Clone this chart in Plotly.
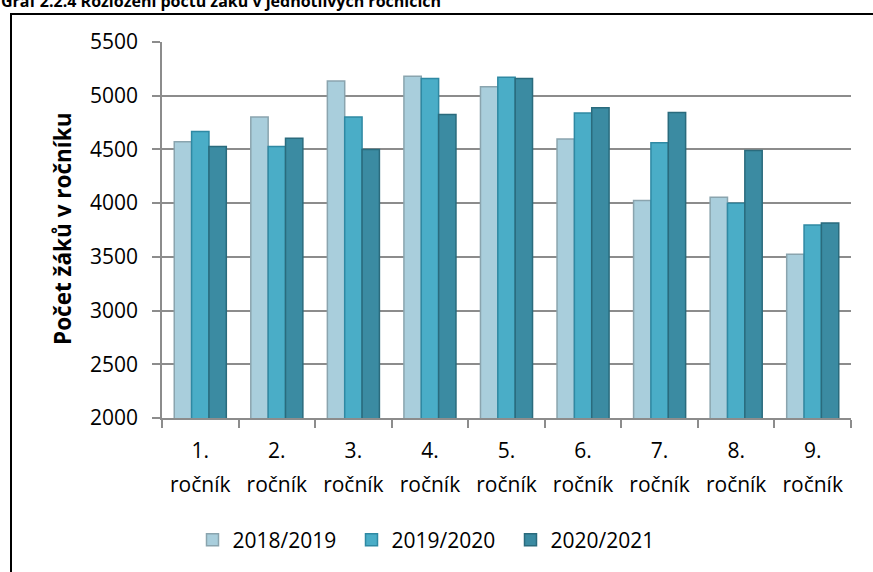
import plotly.graph_objects as go

# data
rocniky = ["1.", "2.", "3.", "4.", "5.", "6.", "7.", "8.", "9."]
skolni_roky = ["2018/2019", "2019/2020", "2020/2021"]
zaci_2018 = [4572, 4803, 5136, 5182, 5083, 4597, 4025, 4054, 3525]
zaci_2019 = [4668, 4528, 4803, 5160, 5173, 4838, 4563, 4000, 3796]
zaci_2020 = [4528, 4603, 4500, 4824, 5160, 4888, 4844, 4491, 3815]
y_ticks = [2000, 2500, 3000, 3500, 4000, 4500, 5000, 5500]

fills = ["#a9cedc", "#4aadc7", "#3b8ba2"]
edges = ["#8aa4ae", "#2f89a3", "#2a6b7d"]
FONT = "Open Sans"
GRID = "#8c8c8c"

W, H = 873, 572
L, R, T, B = 162, 22, 42, 154
pw, ph = W - L - R, H - T - B


def px_x(x):
    return (x - L) / pw


def px_y(y):
    return (H - B - y) / ph


fig = go.Figure()
for name, vals, fc, ec in zip(skolni_roky, [zaci_2018, zaci_2019, zaci_2020], fills, edges):
    fig.add_trace(go.Bar(
        x=rocniky, y=vals, name=name,
        marker=dict(color=fc, line=dict(color=ec, width=1.5)),
    ))

fig.update_layout(
    width=W, height=H,
    margin=dict(l=L, r=R, t=T, b=B),
    paper_bgcolor="white", plot_bgcolor="white",
    barmode="group", bargap=0.32, bargroupgap=0,
    font=dict(family=FONT, size=21, color="#000000"),
    showlegend=True,
    legend=dict(
        orientation="h", x=px_x(431), xanchor="center",
        y=px_y(540), yanchor="middle",
        font=dict(family=FONT, size=21, color="#000000"),
        itemwidth=30, traceorder="normal",
        entrywidth=114, entrywidthmode="pixels",
    ),
    xaxis=dict(
        type="category", tickson="boundaries", ticks="outside", ticklen=8,
        tickcolor=GRID, tickwidth=1.5, showline=True, linecolor=GRID, linewidth=1.5,
        showgrid=False, ticklabelstandoff=13,
        tickfont=dict(family=FONT, size=21),
    ),
    xaxis2=dict(
        overlaying="x", anchor="y", side="bottom", range=[-0.5, 8.5],
        tickvals=list(range(len(rocniky))), ticktext=["ročník"] * len(rocniky),
        ticks="", showgrid=False, showline=False, zeroline=False,
        ticklabelstandoff=52, tickfont=dict(family=FONT, size=21),
    ),
    yaxis=dict(
        range=[2000, 5500], tickvals=y_ticks, ticks="outside", ticklen=8,
        tickcolor=GRID, tickwidth=1.5, showline=True, linecolor=GRID, linewidth=1.5,
        showgrid=True, gridcolor=GRID, gridwidth=1.5, zeroline=False,
        ticklabelstandoff=10, tickfont=dict(family=FONT, size=21),
    ),
)

# empty trace so the second (label) axis gets drawn
fig.add_trace(go.Scatter(x=[], y=[], xaxis="x2", showlegend=False, hoverinfo="skip"))

fig.add_annotation(
    text="<b>Počet žáků v ročníku</b>", textangle=-90,
    xref="paper", yref="paper", x=px_x(62), y=px_y(229),
    xanchor="center", yanchor="middle", showarrow=False,
    font=dict(family=FONT, size=22.5, color="#000000"),
)
fig.add_annotation(
    text="<b>Graf 2.2.4 Rozložení počtu žáků v jednotlivých ročnících</b>",
    xref="paper", yref="paper", x=px_x(-1), y=px_y(1),
    xanchor="left", yanchor="middle", showarrow=False,
    font=dict(family=FONT, size=16, color="#000000"),
)
# outer chart frame (only its top and left edges are in view)
fig.add_shape(
    type="rect", xref="paper", yref="paper",
    x0=px_x(11), x1=px_x(890), y0=px_y(600), y1=px_y(14),
    line=dict(color="#000000", width=2), fillcolor="rgba(0,0,0,0)", layer="below",
)

fig.write_html(
    "out.html",
    config={"displayModeBar": False},
    post_script="document.body.style.margin='0px';",
)
